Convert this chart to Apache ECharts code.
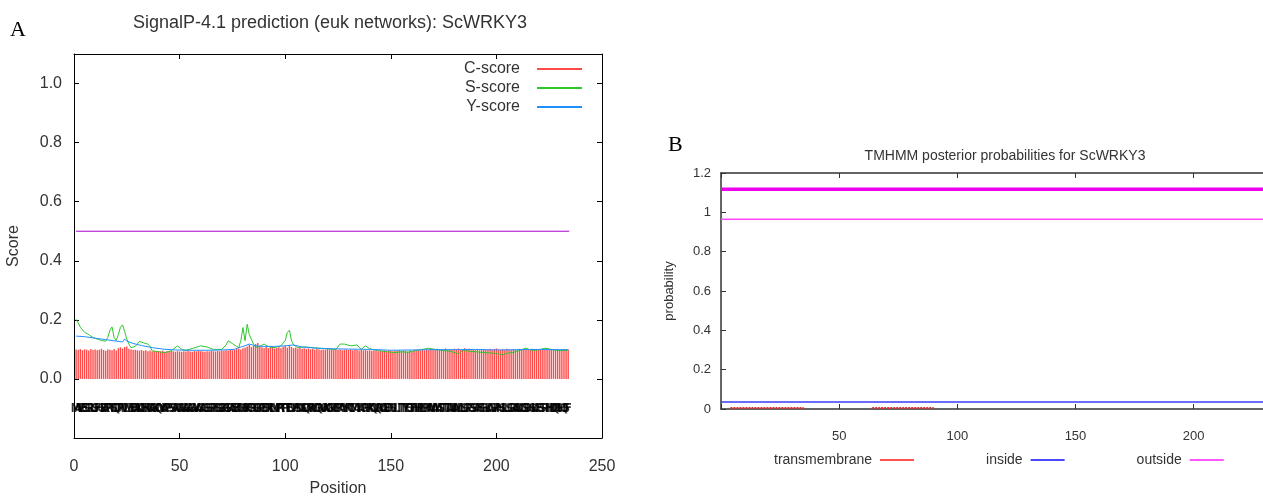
<!DOCTYPE html>
<html>
<head>
    <meta charset="UTF-8">
    <title>ScWRKY3 SignalP / TMHMM</title>
    <script src="https://cdn.jsdelivr.net/npm/echarts@6/dist/echarts.min.js"></script>
    <style>
        body { margin: 0; background: #fff; }
        #chart { width: 1263px; height: 497px; }
    </style>
</head>
<body>
    <div id="chart"></div>

    <script>
        // ---- panel A : SignalP-4.1 ----
        var sequence = ('MAVEESGRLS' + 'FHGEAPRTSQ' + 'DPTVLMEEAA' + 'KDEHRGAGKQ' + 'NYAPPSSARG' +
            'AGAGAGAVAG' + 'AGSSSPEGGG' + 'KRSRAEEAGM' + 'SKFGRSGKPE' + 'DRRLMVPRTP' +
            'TEDVPSDGCQ' + 'WRKYGQKVAK' + 'GNPCPRAYYR' + 'CTMAIACPVR' + 'KQVQRCAEDR' +
            'SILITTYEGT' + 'HNHPLPPAAM' + 'AMASTTTAAA' + 'AMLLSGPGSS' + 'AFSGHLAGVP' +
            'AHSLLSGRAA' + 'DCGSDHGLAF' + 'SSPIHHDQRS' + 'HQSF').split('');

        var cScore = [
            0.100,0.098,0.101,0.097,0.100,0.099,0.096,0.101,0.098,0.100,
            0.097,0.099,0.102,0.098,0.095,0.100,0.099,0.097,0.101,0.096,
            0.104,0.107,0.103,0.108,0.110,0.102,0.100,0.098,0.099,0.097,
            0.096,0.098,0.095,0.097,0.094,0.096,0.093,0.095,0.092,0.094,
            0.093,0.095,0.092,0.094,0.093,0.095,0.094,0.092,0.094,0.093,
            0.092,0.094,0.093,0.095,0.093,0.092,0.094,0.093,0.095,0.094,
            0.093,0.092,0.094,0.093,0.095,0.094,0.093,0.095,0.094,0.096,
            0.095,0.097,0.096,0.098,0.097,0.099,0.101,0.103,0.100,0.104,
            0.106,0.110,0.115,0.108,0.112,0.118,0.122,0.110,0.107,0.105,
            0.108,0.104,0.106,0.110,0.103,0.105,0.107,0.104,0.109,0.112,
            0.106,0.115,0.108,0.104,0.106,0.103,0.105,0.102,0.104,0.101,
            0.103,0.100,0.102,0.099,0.101,0.100,0.098,0.100,0.099,0.101,
            0.100,0.102,0.099,0.101,0.098,0.100,0.097,0.099,0.100,0.098,
            0.099,0.097,0.100,0.098,0.096,0.099,0.097,0.098,0.096,0.097,
            0.095,0.097,0.096,0.094,0.096,0.095,0.097,0.094,0.096,0.095,
            0.094,0.096,0.095,0.097,0.094,0.096,0.095,0.093,0.096,0.094,
            0.097,0.095,0.098,0.096,0.099,0.097,0.100,0.098,0.101,0.099,
            0.100,0.102,0.099,0.101,0.100,0.103,0.098,0.101,0.099,0.102,
            0.100,0.103,0.099,0.101,0.104,0.100,0.102,0.099,0.101,0.098,
            0.100,0.097,0.099,0.101,0.098,0.100,0.102,0.099,0.101,0.103,
            0.100,0.098,0.101,0.099,0.102,0.100,0.098,0.101,0.099,0.100,
            0.102,0.099,0.101,0.100,0.098,0.100,0.102,0.099,0.101,0.100,
            0.099,0.101,0.100,0.102,0.099,0.101,0.100,0.098,0.101,0.099,
            0.100,0.101,0.099,0.100
        ];

        // [position, score]
        var sScore = [
            [1,0.202],[2,0.19],[3,0.175],[5,0.158],[7,0.15],[9,0.14],[11,0.135],[13,0.13],[15,0.128],
            [16,0.14],[17,0.165],[18,0.176],[19,0.14],[20,0.13],[21,0.15],[22,0.175],[23,0.183],
            [24,0.16],[25,0.135],[26,0.118],[27,0.106],[29,0.11],[31,0.127],[33,0.122],[35,0.118],
            [36,0.11],[37,0.095],[40,0.092],[43,0.089],[46,0.095],[49,0.112],[51,0.1],[53,0.097],
            [56,0.103],[60,0.112],[63,0.108],[66,0.1],[70,0.1],[72,0.115],[73,0.129],[75,0.12],
            [77,0.11],[78,0.106],[79,0.13],[80,0.174],[81,0.129],[82,0.185],[83,0.15],[84,0.134],
            [85,0.118],[86,0.107],[88,0.11],[90,0.118],[92,0.11],[94,0.105],[96,0.108],[98,0.112],
            [100,0.13],[101,0.157],[102,0.165],[103,0.129],[104,0.115],[106,0.106],[108,0.108],
            [110,0.108],[113,0.106],[116,0.104],[120,0.102],[124,0.1],[126,0.118],[128,0.118],
            [131,0.112],[134,0.115],[136,0.1],[138,0.112],[140,0.102],[144,0.096],[148,0.092],
            [152,0.089],[155,0.092],[158,0.09],[161,0.095],[165,0.1],[168,0.104],[171,0.1],
            [175,0.096],[178,0.094],[182,0.085],[184,0.096],[187,0.094],[190,0.092],[195,0.089],
            [199,0.087],[203,0.082],[205,0.087],[208,0.09],[211,0.097],[214,0.104],[217,0.096],
            [220,0.098],[223,0.104],[226,0.1],[228,0.097],[231,0.096],[234,0.097]
        ];

        var yScore = [
            [1,0.145],[5,0.143],[10,0.138],[15,0.133],[20,0.128],[23,0.125],[24,0.135],[25,0.128],
            [28,0.12],[32,0.113],[37,0.106],[42,0.101],[48,0.098],[55,0.097],[62,0.097],[70,0.098],
            [76,0.1],[78,0.106],[80,0.11],[83,0.118],[86,0.112],[90,0.11],[95,0.11],[100,0.112],
            [104,0.115],[108,0.108],[115,0.104],[122,0.102],[130,0.101],[140,0.1],[150,0.097],
            [160,0.098],[170,0.099],[180,0.099],[190,0.1],[200,0.098],[210,0.099],[220,0.1],
            [230,0.099],[234,0.099]
        ];

        var cutoff = [[1, 0.5], [234.5, 0.5]];

        // ---- panel B : TMHMM ----
        var tmSegA = [[4, 0.005], [35, 0.005]];
        var tmSegB = [[64, 0.005], [90, 0.005]];
        var insideProb = [[0, 0.035], [234, 0.035]];
        var outsideProb = [[0, 0.965], [234, 0.965]];
        var outsideTopology = [[0, 1.118], [234, 1.118]];

        var positions = cScore.map(function (v, i) { return i + 1; });
        var cBars = positions.map(function (p, i) { return [p, cScore[i]]; });
        var seqPoints = sequence.map(function (s, i) { return [i + 1, -0.102]; });

        var font = 'Liberation Sans, Arial, sans-serif';
        var chart = echarts.init(document.getElementById('chart'), null, {renderer: 'canvas'});

        function boxAxis(base, color, width) {
            return Object.assign({
                axisLine: {show: true, onZero: false, lineStyle: {color: color || '#000', width: width || 1}},
                axisTick: {show: true, inside: true, length: 5, lineStyle: {color: color || '#000'}},
                splitLine: {show: false}
            }, base);
        }

        chart.setOption({
            animation: false,
            backgroundColor: '#fff',
            title: [
                {text: 'SignalP-4.1 prediction (euk networks): ScWRKY3', left: 325, top: 9, textAlign: 'center',
                    textStyle: {fontFamily: font, fontSize: 18, fontWeight: 'normal', color: '#333'}},
                {text: 'TMHMM posterior probabilities for ScWRKY3', left: 1000, top: 144, textAlign: 'center',
                    textStyle: {fontFamily: font, fontSize: 14, fontWeight: 'normal', color: '#333'}}
            ],
            graphic: [
                {type: 'text', left: 10, top: 19, style: {text: 'A', font: '22px "Liberation Serif", serif', fill: '#000'}},
                {type: 'text', left: 668, top: 134, style: {text: 'B', font: '22px "Liberation Serif", serif', fill: '#000'}}
            ],
            legend: [
                {
                    data: ['C-score', 'S-score', 'Y-score'],
                    orient: 'vertical', align: 'right', right: 676, top: 56,
                    icon: 'rect', itemWidth: 45, itemHeight: 2, itemGap: 3,
                    textStyle: {fontFamily: font, fontSize: 16, color: '#333', padding: [0, 12, 0, 0]}
                },
                {
                    data: ['transmembrane', 'inside', 'outside'],
                    orient: 'horizontal', align: 'right', left: 769, top: 448,
                    icon: 'rect', itemWidth: 34, itemHeight: 2, itemGap: 72,
                    textStyle: {fontFamily: font, fontSize: 14, color: '#333', padding: [0, 3, 0, 0]}
                }
            ],
            grid: [
                {left: 74, top: 54, width: 528, height: 384, outerBoundsMode: 'none', containLabel: false},
                {left: 721, top: 173, right: -11, height: 236, outerBoundsMode: 'none', containLabel: false}
            ],
            xAxis: [
                boxAxis({type: 'value', gridIndex: 0, min: 0, max: 250, interval: 50,
                    name: 'Position', nameLocation: 'middle', nameGap: 43,
                    nameTextStyle: {fontFamily: font, fontSize: 16, color: '#333'},
                    axisLabel: {fontFamily: font, fontSize: 16, color: '#333', margin: 21}}),
                boxAxis({type: 'value', gridIndex: 0, position: 'top', min: 0, max: 250, interval: 50,
                    axisLabel: {show: false}}),
                boxAxis({type: 'value', gridIndex: 1, min: 0, max: 234, interval: 50,
                    axisLabel: {fontFamily: font, fontSize: 13, color: '#333', margin: 21,
                        formatter: function (v) { return (v > 0 && v % 50 === 0) ? String(v) : ''; }}}, '#333', 1.5),
                boxAxis({type: 'value', gridIndex: 1, position: 'top', min: 0, max: 234, interval: 50,
                    axisLabel: {show: false}}, '#333', 1.5)
            ],
            yAxis: [
                boxAxis({type: 'value', gridIndex: 0, min: -0.2, max: 1.1, interval: 0.2,
                    name: 'Score', nameLocation: 'middle', nameGap: 52,
                    nameTextStyle: {fontFamily: font, fontSize: 16, color: '#333'},
                    axisLabel: {fontFamily: font, fontSize: 16, color: '#333', margin: 12,
                        formatter: function (v) { return (v < -0.05 || v > 1.05) ? '' : v.toFixed(1); }}}),
                boxAxis({type: 'value', gridIndex: 0, position: 'right', min: -0.2, max: 1.1, interval: 0.2,
                    axisLabel: {show: false}}),
                boxAxis({type: 'value', gridIndex: 1, min: 0, max: 1.2, interval: 0.2,
                    name: 'probability', nameLocation: 'middle', nameGap: 45,
                    nameTextStyle: {fontFamily: font, fontSize: 13, color: '#333'},
                    axisLabel: {fontFamily: font, fontSize: 13, color: '#333', margin: 10,
                        formatter: function (v) { return String(Math.round(v * 10) / 10); }}}, '#333', 1.5)
            ],
            series: [
                {name: 'C-score', type: 'bar', xAxisIndex: 0, yAxisIndex: 0, data: cBars,
                    barWidth: 1.4, itemStyle: {color: '#ff4a4a'}, silent: true},
                {name: 'S-score', type: 'line', xAxisIndex: 0, yAxisIndex: 0, data: sScore,
                    symbol: 'none', lineStyle: {color: '#2ec82e', width: 1}, itemStyle: {color: '#2ec82e'}},
                {name: 'Y-score', type: 'line', xAxisIndex: 0, yAxisIndex: 0, data: yScore,
                    symbol: 'none', lineStyle: {color: '#2090ff', width: 1}, itemStyle: {color: '#2090ff'}},
                {name: 'cutoff', type: 'line', xAxisIndex: 0, yAxisIndex: 0, data: cutoff,
                    symbol: 'none', lineStyle: {color: '#a800c8', width: 1}},
                {name: 'sequence', type: 'scatter', xAxisIndex: 0, yAxisIndex: 0, data: seqPoints,
                    symbolSize: 0, silent: true,
                    label: {show: true, position: 'inside',
                        formatter: function (p) { return sequence[p.dataIndex]; },
                        fontFamily: 'DejaVu Sans Condensed, sans-serif', fontSize: 12, fontWeight: 'bold', color: '#000'}},

                {name: 'transmembrane', type: 'line', xAxisIndex: 2, yAxisIndex: 2, data: tmSegA,
                    symbol: 'none', lineStyle: {color: '#d83030', width: 2, type: [2, 1]}, itemStyle: {color: '#ff5050'}},
                {name: 'transmembrane', type: 'line', xAxisIndex: 2, yAxisIndex: 2, data: tmSegB,
                    symbol: 'none', lineStyle: {color: '#d83030', width: 2, type: [2, 1]}, itemStyle: {color: '#ff5050'}},
                {name: 'inside', type: 'line', xAxisIndex: 2, yAxisIndex: 2, data: insideProb,
                    symbol: 'none', lineStyle: {color: '#3a3aff', width: 1.5}, itemStyle: {color: '#4848ff'}},
                {name: 'outside', type: 'line', xAxisIndex: 2, yAxisIndex: 2, data: outsideProb,
                    symbol: 'none', lineStyle: {color: '#ff44ff', width: 1.5}, itemStyle: {color: '#ff55ff'}},
                {name: 'outside topology', type: 'line', xAxisIndex: 2, yAxisIndex: 2, data: outsideTopology,
                    symbol: 'none', lineStyle: {color: '#ee00ee', width: 3.5}}
            ]
        });
    </script>
</body>
</html>
